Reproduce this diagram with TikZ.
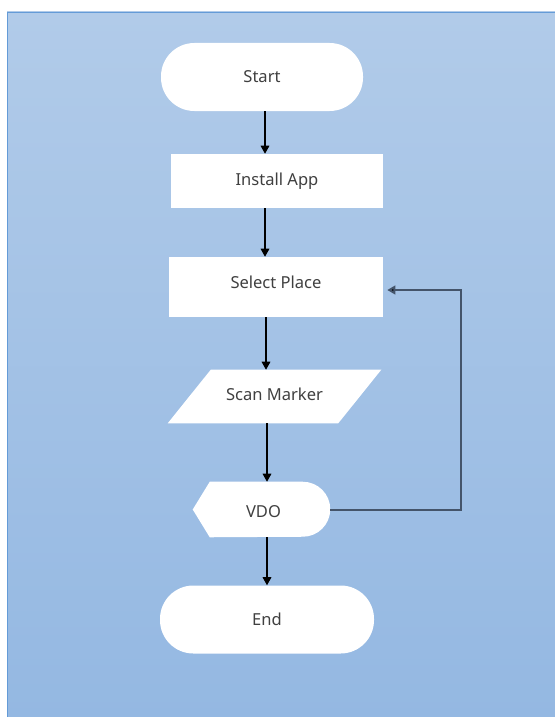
\documentclass[tikz,border=0pt]{standalone}
\usepackage{fontspec}
\setmainfont{Noto Sans}
\usetikzlibrary{arrows.meta,calc}
\definecolor{bgtop}{RGB}{177,203,233}
\definecolor{bgbot}{RGB}{148,184,226}
\definecolor{bgedge}{RGB}{100,155,215}
\definecolor{txt}{RGB}{64,64,64}
\definecolor{loopc}{RGB}{68,84,106}
\tikzset{
  box/.style={fill=white, text=txt, font=\fontsize{12.4}{14}\selectfont, inner sep=0pt},
  term/.style={box, minimum width=#1*0.75pt, minimum height=51pt, rounded corners=25pt},
  procbox/.style={box, minimum width=#1*0.75pt},
  plain/.style={text=txt, font=\fontsize{12.4}{14}\selectfont, inner sep=0pt},
  flow/.style={draw=black, line width=0.9pt, -{Triangle[width=6.5pt,length=6pt]}},
  back/.style={draw=loopc, line width=1.5pt, -{Triangle[width=6.5pt,length=6pt,fill=black]}, shorten >=3pt},
}
\begin{document}
\begin{tikzpicture}[x=0.75pt, y=-0.75pt]
\useasboundingbox (0,0) rectangle (554,717);
% panel
\shade[top color=bgtop, bottom color=bgbot] (7,12) rectangle (560,720);
\draw[bgedge, line width=0.8pt] (7.4,720) -- (7.4,12.4) -- (560,12.4);

% flowchart nodes
\node[term=202] (start) at (262,77) {Start};
\node[procbox=212, minimum height=40.5pt] (inst) at (277,181) {\raisebox{3pt}{Install App}};
\node[procbox=214, minimum height=45pt] (sel) at (276,287) {\raisebox{7pt}{Select Place}};
% parallelogram: text box plus slanted outline
\node[plain, minimum width=127.5pt, minimum height=39.75pt] (scan) at (274.5,396.5) {};
\fill[white] ($(scan.south west)+(-21.5,0)$) -- ($(scan.south east)+(-21.5,0)$)
  -- ($(scan.north east)+(21.5,0)$) -- ($(scan.north west)+(21.5,0)$) -- cycle;
\node[plain] at ($(scan.center)+(0,-2)$) {Scan Marker};
% display shape
\node[plain, minimum width=102.75pt, minimum height=41.25pt] (vdo) at (261.5,509.5) {};
\fill[white] (vdo.west) -- ($(vdo.north west)+(17,0)$) -- ($(vdo.north east)+(-27.5,0)$)
  arc[start angle=90, end angle=-90, radius=20.625pt]
  -- ($(vdo.south west)+(17,0)$) -- cycle;
\node[plain] at ($(vdo.center)+(2,2)$) {VDO};
\node[term=214] (end) at (267,619.5) {End};

% connectors
\coordinate (a1) at (265,0);
\coordinate (a2) at (266,0);
\coordinate (a3) at (267,0);
\coordinate (lx) at (461,0);
\draw[flow] (start.south -| a1) -- (inst.north -| a1);
\draw[flow] (inst.south -| a1) -- (sel.north -| a1);
\draw[flow] (sel.south -| a2) -- (scan.north -| a2);
\draw[flow] (scan.south -| a3) -- (vdo.north -| a3);
\draw[flow] (vdo.south -| a3) -- (end.north -| a3);
\draw[back] (vdo.east) -- (vdo.east -| lx) -- ($(sel.east -| lx)+(0,3)$) -- ($(sel.east)+(0,3)$);
\end{tikzpicture}
\end{document}
